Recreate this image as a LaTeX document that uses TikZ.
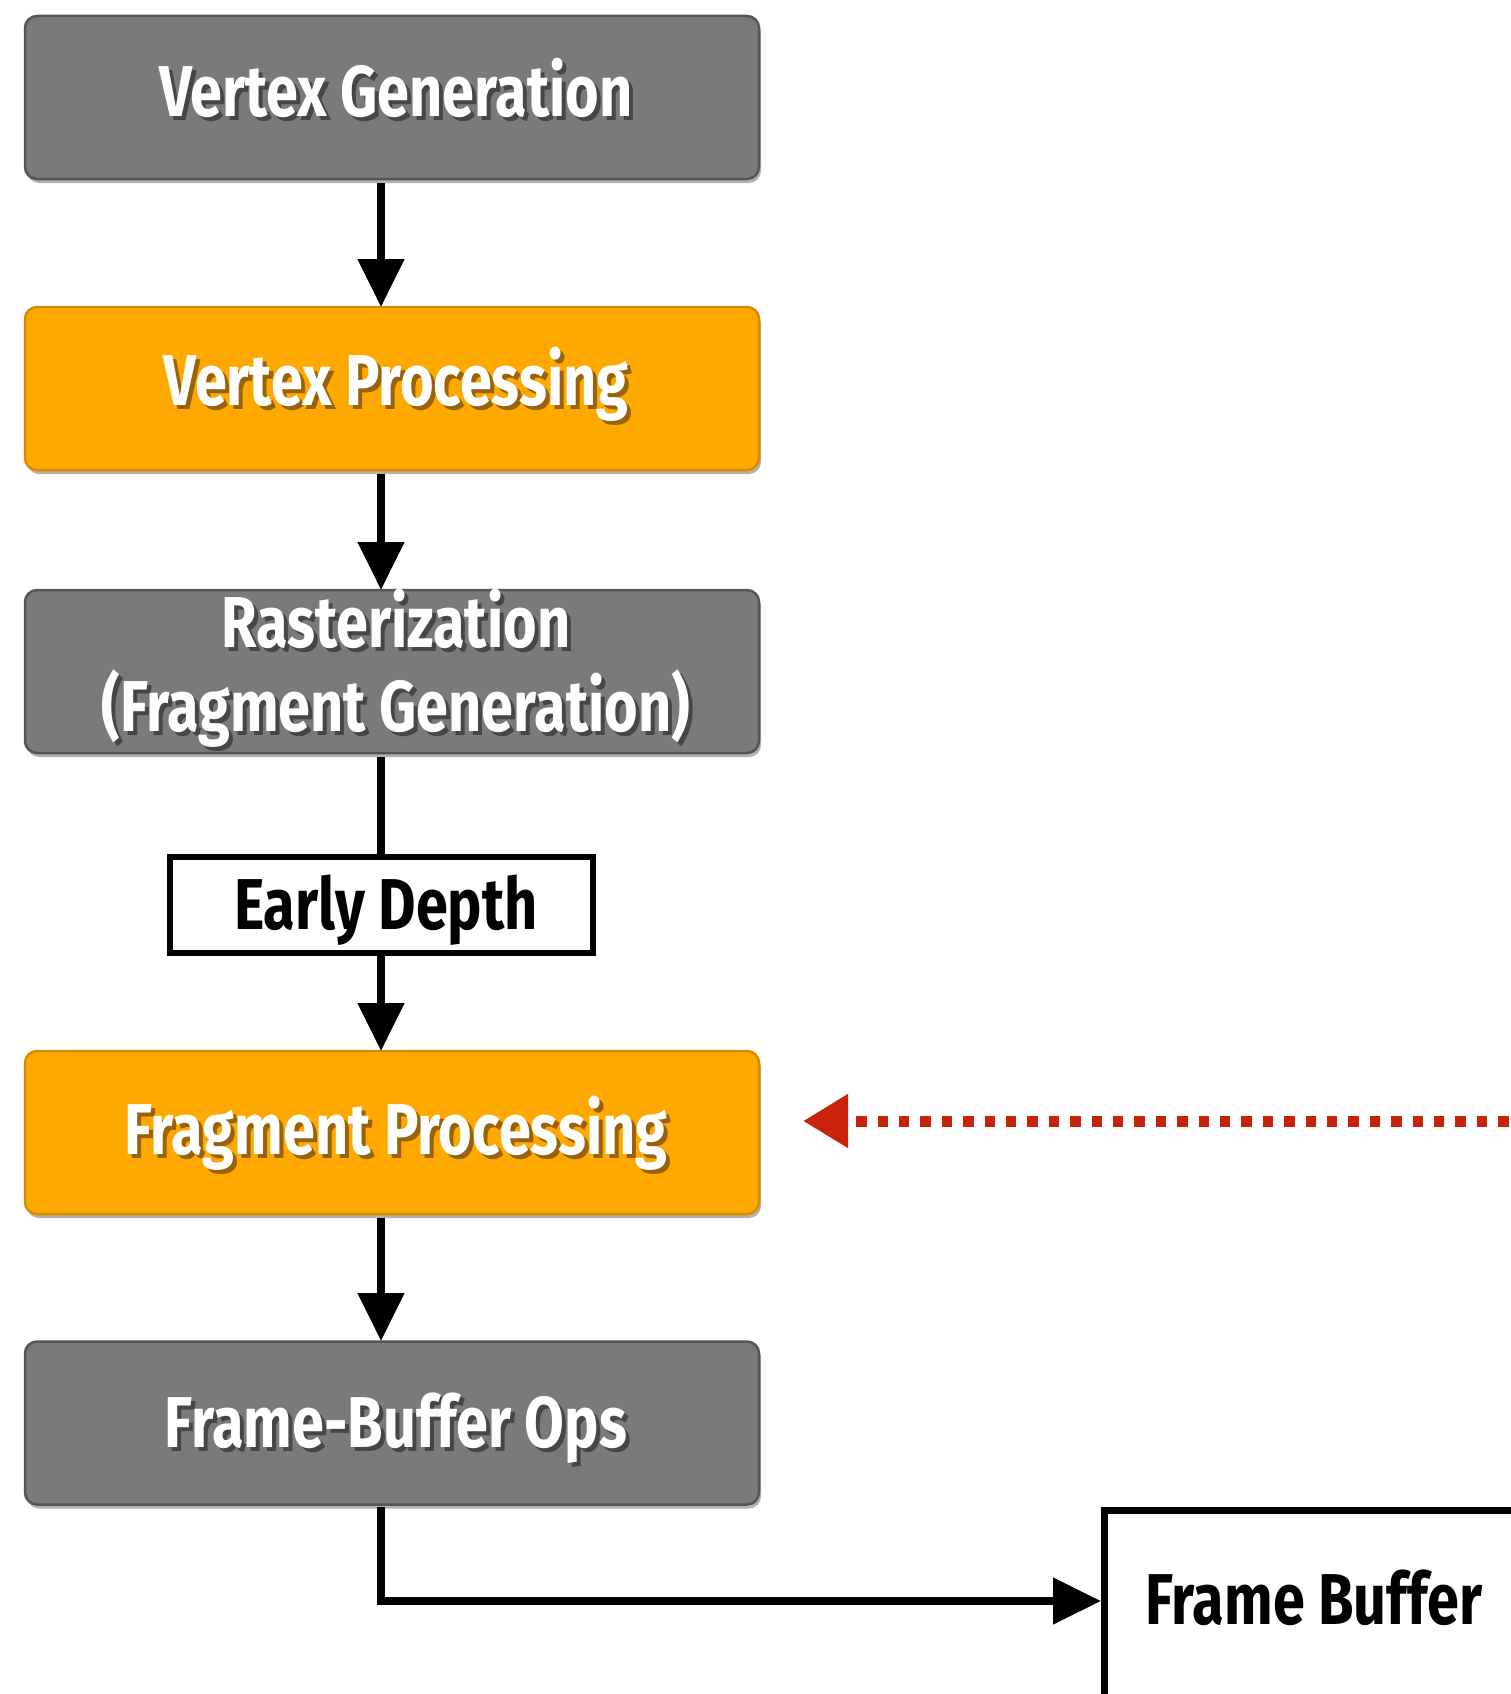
\documentclass[tikz,border=0pt]{standalone}
\usepackage{fontspec}
\setmainfont{Fira Sans}[FakeStretch=0.8]
\usetikzlibrary{arrows.meta,calc,shadows}
\definecolor{boxgray}{RGB}{122,122,122}
\definecolor{boxgrayedge}{RGB}{85,85,85}
\definecolor{boxorange}{RGB}{255,168,0}
\definecolor{boxorangeedge}{RGB}{214,140,0}
\definecolor{shgray}{RGB}{70,70,70}
\definecolor{shorange}{RGB}{150,98,10}
\definecolor{dotred}{RGB}{200,35,10}
\newcommand\shtxt[2]{\makebox[0pt][l]{\kern4pt\raisebox{-4pt}{\textcolor{#1}{#2}}}#2}
\tikzset{
  stagebox/.style={rounded corners=12pt, line width=2.5pt, minimum width=734pt, minimum height=163pt,
     inner sep=0pt, drop shadow={shadow xshift=2pt, shadow yshift=-4pt, opacity=0.3, fill=black}},
  graybox/.style={stagebox, fill=boxgray, draw=boxgrayedge},
  orangebox/.style={stagebox, fill=boxorange, draw=boxorangeedge},
  stagetxt/.style={font=\bfseries\fontsize{72}{84}\selectfont, text=white, align=center, inner sep=0pt},
  flow/.style={line width=8pt, draw=black},
  flowarrow/.style={flow, -{Triangle[length=48pt,width=45pt]}},
  plainbox/.style={draw=black, line width=6pt, fill=white, inner sep=0pt},
  plaintxt/.style={font=\bfseries\fontsize{72}{84}\selectfont, text=black, inner sep=0pt},
}
\newcommand\stage[5]{%
  \node[#3] (#1) at (392,#2) {};
  \node[stagetxt] (#1t) at ($(#1)+(#4)$) {#5};
}
\begin{document}
\begin{tikzpicture}[x=1pt,y=-1pt]
\useasboundingbox[fill=white] (0,0) rectangle (1511,1694);

\stage{vg}{97.5}{graybox}{4,-8}{\shtxt{shgray}{Vertex Generation}}
\stage{vp}{388.5}{orangebox}{4,-2}{\shtxt{shorange}{Vertex Processing}}
\stage{ra}{671.5}{graybox}{4,-1}{\shtxt{shgray}{Rasterization}\\\shtxt{shgray}{(Fragment Generation)}}
\stage{fp}{1132.5}{orangebox}{4,3}{\shtxt{shorange}{Fragment Processing}}
\stage{fbo}{1423}{graybox}{4,7}{\shtxt{shgray}{Frame-Buffer Ops}}

\node[plainbox, minimum width=423pt, minimum height=96pt] (ed) at (381.5,905) {};
\node[plaintxt] (edt) at (386,910) {Early Depth};

\node[plainbox, line width=7pt, minimum width=480pt, minimum height=260pt, anchor=north west] (fb) at (1101,1507) {};
\node[plaintxt] (fbt) at (1314,1598) {Frame Buffer};

\coordinate (a1) at (381,179);
\coordinate (a2) at (381,307);
\coordinate (a3) at (381,470);
\coordinate (a4) at (381,590);
\coordinate (a5) at (381,753);
\coordinate (a6) at (381,857);
\coordinate (a7) at (381,953);
\coordinate (a8) at (381,1051);
\coordinate (a9) at (381,1214);
\coordinate (a10) at (381,1341);
\coordinate (a11) at (381,1505);
\coordinate (fbin) at (1101,1601);
\coordinate (redtip) at (801,1121);
\coordinate (redstart) at (1530,1121);

\draw[flowarrow, shorten <=4pt] (a1) -- (a2);
\draw[flowarrow, shorten <=4pt] (a3) -- (a4);
\draw[flow, shorten <=4pt] (a5) -- (a6);
\draw[flowarrow] (a7) -- (a8);
\draw[flowarrow, shorten <=4pt] (a9) -- (a10);
\draw[flowarrow, shorten <=2pt] (a11) |- (fbin);

\draw[draw=dotred, line width=11pt, dash pattern=on 10.5pt off 10.9pt,
      -{Triangle[length=45pt,width=51pt,fill=dotred,sep=2pt]}] (redstart) -- (redtip);
\end{tikzpicture}
\end{document}
